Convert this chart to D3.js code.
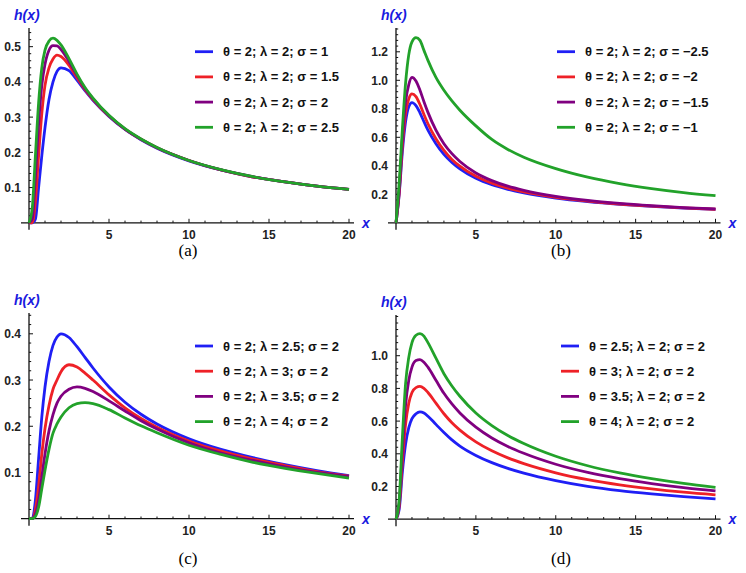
<!DOCTYPE html>
<html>
<head>
<meta charset="utf-8">
<script src="https://cdn.jsdelivr.net/npm/d3@7"></script>
<style>
  body { margin: 0; background: #fff; }
  svg text { font-family: "Liberation Sans", Arial, sans-serif; }
</style>
</head>
<body>
<svg id="chart" width="746" height="573"></svg>
<script>
// sample points along x, shared by all panels
const xGrid = [0, 0.2, 0.4, 0.6, 0.8, 1, 1.25, 1.5, 1.75, 2, 2.5, 3, 3.5, 4, 5, 6, 7, 8, 10, 12, 14, 16, 18, 20];

// (a) sigma varies
const aLabels = ["θ = 2; λ = 2; σ = 1", "θ = 2; λ = 2; σ = 1.5", "θ = 2; λ = 2; σ = 2", "θ = 2; λ = 2; σ = 2.5"];
const aBlue   = [0, 0, 0.01, 0.10, 0.19, 0.27, 0.35, 0.40, 0.43, 0.44, 0.432, 0.405, 0.375, 0.348, 0.302, 0.265, 0.236, 0.212, 0.176, 0.150, 0.130, 0.116, 0.104, 0.095];
const aRed    = [0, 0, 0.06, 0.19, 0.31, 0.39, 0.44, 0.465, 0.476, 0.472, 0.447, 0.412, 0.378, 0.350, 0.303, 0.266, 0.237, 0.213, 0.177, 0.150, 0.130, 0.116, 0.104, 0.095];
const aPurple = [0, 0.01, 0.13, 0.28, 0.39, 0.45, 0.49, 0.503, 0.502, 0.492, 0.458, 0.418, 0.381, 0.352, 0.304, 0.266, 0.237, 0.213, 0.177, 0.150, 0.131, 0.116, 0.104, 0.095];
const aGreen  = [0, 0.04, 0.19, 0.34, 0.44, 0.49, 0.516, 0.524, 0.518, 0.505, 0.466, 0.422, 0.384, 0.354, 0.305, 0.267, 0.238, 0.214, 0.177, 0.151, 0.131, 0.116, 0.104, 0.095];

// (b) negative sigma
const bLabels = ["θ = 2; λ = 2; σ = −2.5", "θ = 2; λ = 2; σ = −2", "θ = 2; λ = 2; σ = −1.5", "θ = 2; λ = 2; σ = −1"];
const bBlue   = [0, 0.20, 0.50, 0.71, 0.815, 0.843, 0.822, 0.772, 0.71, 0.65, 0.555, 0.48, 0.423, 0.378, 0.312, 0.267, 0.235, 0.21, 0.174, 0.149, 0.130, 0.115, 0.103, 0.094];
const bRed    = [0, 0.21, 0.54, 0.77, 0.87, 0.905, 0.885, 0.83, 0.76, 0.695, 0.59, 0.508, 0.445, 0.397, 0.326, 0.278, 0.243, 0.217, 0.179, 0.152, 0.132, 0.117, 0.105, 0.095];
const bPurple = [0, 0.23, 0.59, 0.85, 0.97, 1.02, 0.995, 0.93, 0.85, 0.775, 0.65, 0.555, 0.485, 0.43, 0.35, 0.296, 0.257, 0.228, 0.186, 0.157, 0.136, 0.120, 0.107, 0.097];
const bGreen  = [0, 0.28, 0.66, 0.98, 1.18, 1.27, 1.30, 1.28, 1.21, 1.14, 1.02, 0.93, 0.855, 0.79, 0.68, 0.585, 0.515, 0.46, 0.38, 0.32, 0.275, 0.24, 0.212, 0.19];

// (c) lambda varies
const cLabels = ["θ = 2; λ = 2.5; σ = 2", "θ = 2; λ = 3; σ = 2", "θ = 2; λ = 3.5; σ = 2", "θ = 2; λ = 4; σ = 2"];
const cBlue   = [0, 0, 0.04, 0.13, 0.22, 0.285, 0.34, 0.375, 0.393, 0.40, 0.392, 0.372, 0.349, 0.326, 0.285, 0.252, 0.226, 0.205, 0.173, 0.150, 0.132, 0.117, 0.104, 0.093];
const cRed    = [0, 0, 0.02, 0.07, 0.14, 0.195, 0.245, 0.28, 0.30, 0.318, 0.333, 0.328, 0.315, 0.30, 0.268, 0.24, 0.217, 0.198, 0.168, 0.146, 0.129, 0.115, 0.102, 0.092];
const cPurple = [0, 0, 0.01, 0.04, 0.09, 0.14, 0.19, 0.225, 0.25, 0.265, 0.28, 0.285, 0.282, 0.275, 0.255, 0.233, 0.212, 0.194, 0.164, 0.142, 0.126, 0.112, 0.10, 0.091];
const cGreen  = [0, 0, 0.005, 0.025, 0.065, 0.105, 0.15, 0.185, 0.205, 0.22, 0.24, 0.249, 0.251, 0.249, 0.236, 0.218, 0.201, 0.186, 0.159, 0.139, 0.122, 0.109, 0.098, 0.088];

// (d) theta varies
const dLabels = ["θ = 2.5; λ = 2; σ = 2", "θ = 3; λ = 2; σ = 2", "θ = 3.5; λ = 2; σ = 2", "θ = 4; λ = 2; σ = 2"];
const dBlue   = [0, 0.06, 0.29, 0.46, 0.56, 0.615, 0.645, 0.657, 0.65, 0.63, 0.58, 0.53, 0.485, 0.447, 0.39, 0.346, 0.311, 0.282, 0.236, 0.201, 0.175, 0.155, 0.138, 0.124];
const dRed    = [0, 0.08, 0.35, 0.58, 0.71, 0.775, 0.805, 0.812, 0.80, 0.775, 0.71, 0.645, 0.59, 0.545, 0.473, 0.418, 0.375, 0.34, 0.284, 0.242, 0.21, 0.185, 0.165, 0.149];
const dPurple = [0, 0.10, 0.42, 0.70, 0.85, 0.93, 0.97, 0.976, 0.96, 0.93, 0.85, 0.77, 0.705, 0.65, 0.563, 0.497, 0.445, 0.403, 0.336, 0.286, 0.248, 0.218, 0.193, 0.173];
const dGreen  = [0, 0.12, 0.50, 0.83, 0.99, 1.08, 1.125, 1.135, 1.12, 1.08, 0.985, 0.89, 0.815, 0.752, 0.65, 0.573, 0.512, 0.463, 0.385, 0.327, 0.283, 0.248, 0.219, 0.195];

const colors = ["#1f1ff5", "#ee2127", "#800080", "#22a22a"];

const svg = d3.select("#chart");

const panels = [
  { tag: "(a)", left: 29, right: 349, base: 222.8, top: 28, yMax: 0.553, yTicks: [0.1, 0.2, 0.3, 0.4, 0.5], minor: 0.02,
    series: [aBlue, aRed, aPurple, aGreen], labels: aLabels, legX: 195, legY: 51.7, capX: 188, capY: 250 },
  { tag: "(b)", left: 396, right: 715.5, base: 222.8, top: 28, yMax: 1.367, yTicks: [0.2, 0.4, 0.6, 0.8, 1.0, 1.2], minor: 0.04,
    series: [bBlue, bRed, bPurple, bGreen], labels: bLabels, legX: 557, legY: 51.7, capX: 561, capY: 250 },
  { tag: "(c)", left: 29, right: 349, base: 518.7, top: 313, yMax: 0.445, yTicks: [0.1, 0.2, 0.3, 0.4], minor: 0.02,
    series: [cBlue, cRed, cPurple, cGreen], labels: cLabels, legX: 195, legY: 346, capX: 188, capY: 558 },
  { tag: "(d)", left: 396, right: 715.5, base: 519.2, top: 315, yMax: 1.249, yTicks: [0.2, 0.4, 0.6, 0.8, 1.0], minor: 0.04,
    series: [dBlue, dRed, dPurple, dGreen], labels: dLabels, legX: 561, legY: 346, capX: 561, capY: 558 }
];

panels.forEach(p => {
  const x = d3.scaleLinear().domain([0, 20]).range([p.left, p.right]);
  const y = d3.scaleLinear().domain([0, p.yMax]).range([p.base, p.top]);
  const g = svg.append("g");

  // axes
  g.append("line").attr("x1", x(0) - 8).attr("x2", x(20) + 5)
    .attr("y1", p.base).attr("y2", p.base).attr("stroke", "#111").attr("stroke-width", 1.3);
  g.append("line").attr("x1", x(0)).attr("x2", x(0))
    .attr("y1", p.top).attr("y2", p.base + 7).attr("stroke", "#111").attr("stroke-width", 1.3);

  // x ticks (inward)
  d3.range(1, 21).forEach(v => {
    const major = v % 5 === 0;
    g.append("line").attr("x1", x(v)).attr("x2", x(v))
      .attr("y1", p.base).attr("y2", p.base - (major ? 4 : 2.2))
      .attr("stroke", "#111").attr("stroke-width", 1);
  });
  g.selectAll(".xl").data([5, 10, 15, 20]).enter().append("text")
    .attr("x", d => x(d)).attr("y", p.base + 16)
    .attr("text-anchor", "middle").attr("font-size", 12).attr("font-weight", "bold").attr("fill", "#222")
    .text(d => d);

  // y ticks
  const nMinor = Math.floor(p.yMax / p.minor + 1e-6);
  d3.range(1, nMinor + 1).forEach(i => {
    const v = i * p.minor;
    const major = p.yTicks.some(t => Math.abs(t - v) < 1e-6);
    g.append("line").attr("x1", x(0)).attr("x2", x(0) + (major ? 4 : 2.2))
      .attr("y1", y(v)).attr("y2", y(v)).attr("stroke", "#111").attr("stroke-width", 1);
  });
  g.selectAll(".yl").data(p.yTicks).enter().append("text")
    .attr("x", x(0) - 8).attr("y", d => y(d) + 4.5)
    .attr("text-anchor", "end").attr("font-size", 12).attr("font-weight", "bold").attr("fill", "#222")
    .text(d => d3.format(".1f")(d));

  // axis labels
  g.append("text").attr("x", x(0) - 15).attr("y", p.top - 8)
    .attr("font-size", 14).attr("font-weight", "bold").attr("font-style", "italic").attr("fill", "#1a1ae0")
    .text("h(x)");
  g.append("text").attr("x", x(20) + 13).attr("y", p.base + 5)
    .attr("font-size", 14).attr("font-weight", "bold").attr("font-style", "italic").attr("fill", "#1a1ae0")
    .text("x");

  // curves
  const line = d3.line().x((d, i) => x(xGrid[i])).y(d => y(d)).curve(d3.curveMonotoneX);
  p.series.forEach((s, k) => {
    g.append("path").datum(s).attr("d", line)
      .attr("fill", "none").attr("stroke", colors[k]).attr("stroke-width", 2.8)
      .attr("stroke-linejoin", "round");
  });

  // legend
  p.labels.forEach((lab, k) => {
    const ly = p.legY + k * 25.2;
    g.append("line").attr("x1", p.legX).attr("x2", p.legX + 18)
      .attr("y1", ly).attr("y2", ly).attr("stroke", colors[k]).attr("stroke-width", 2.8);
    g.append("text").attr("x", p.legX + 28).attr("y", ly + 4.5)
      .attr("font-size", 13).attr("font-weight", "bold").attr("fill", "#111")
      .text(lab);
  });

  // caption
  g.append("text").attr("x", p.capX).attr("y", p.capY + 6)
    .attr("text-anchor", "middle").attr("font-size", 17)
    .style("font-family", "'Liberation Serif', 'Times New Roman', serif")
    .text(p.tag);
});
</script>
</body>
</html>
